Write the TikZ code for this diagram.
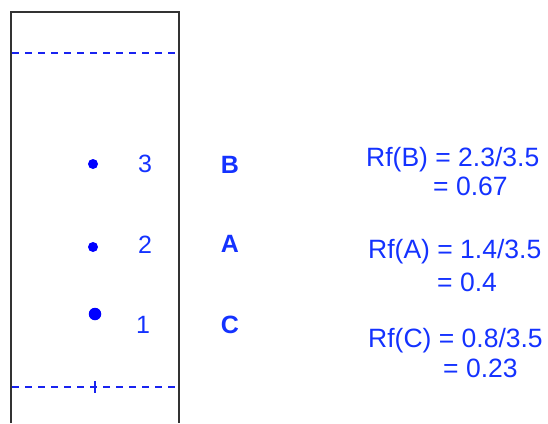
\documentclass[tikz,border=0pt]{standalone}
\usepackage{fontspec}
\setmainfont{Liberation Sans}
\begin{document}
\begin{tikzpicture}[x=1pt,y=-1pt,
  inkblue/.style={text=spotblue},
  lbl/.style={inkblue,font=\fontsize{25}{27}\selectfont,inner sep=0pt},
  cmp/.style={inkblue,font=\bfseries\fontsize{25}{27}\selectfont,inner sep=0pt},
  calc/.style={inkblue,font=\fontsize{26.5}{28}\selectfont,inner sep=0pt,anchor=west},
  front/.style={draw=lineblue,dash pattern=on 7pt off 6pt,line width=1.6pt},
  spot/.style={circle,fill=blue,inner sep=0pt,minimum size=#1}]
\definecolor{spotblue}{RGB}{20,50,255}
\definecolor{lineblue}{RGB}{25,35,240}
\useasboundingbox (0,0) rectangle (548,423);
% TLC plate (open at the bottom)
\draw[line width=2pt,draw=black!80] (11,423) -- (11,12) -- (179,12) -- (179,423);
% solvent front and baseline
\coordinate (frontL) at (12,53);
\coordinate (frontR) at (178,53);
\coordinate (baseL) at (12,387);
\coordinate (baseR) at (178,387);
\draw[front] (frontL) -- (frontR);
\draw[front] (baseL) -- (baseR);
\coordinate (tickT) at (95,381);
\coordinate (tickB) at (95,393);
\draw[lineblue,line width=1.6pt] (tickT) -- (tickB);
% spots
\node[spot=10pt] (s3) at (93,164) {};
\node[spot=10pt] (s2) at (93,247) {};
\node[spot=12.5pt] (s1) at (95,314) {};
\node[lbl] (n3) at (145,164) {3};
\node[lbl] (n2) at (145,245) {2};
\node[lbl] (n1) at (143,325) {1};
\node[cmp] (cB) at (230,165) {B};
\node[cmp] (cA) at (230,244) {A};
\node[cmp] (cC) at (230,325) {C};
% Rf values
\node[calc] (rB) at (366,160) {Rf(B) = 2.3/3.5};
\node[calc] (vB) at (433,186) {= 0.67};
\node[calc] (rA) at (368,252) {Rf(A) = 1.4/3.5};
\node[calc] (vA) at (437,282) {= 0.4};
\node[calc] (rC) at (368,341) {Rf(C) = 0.8/3.5};
\node[calc] (vC) at (443,368) {= 0.23};
\end{tikzpicture}
\end{document}
